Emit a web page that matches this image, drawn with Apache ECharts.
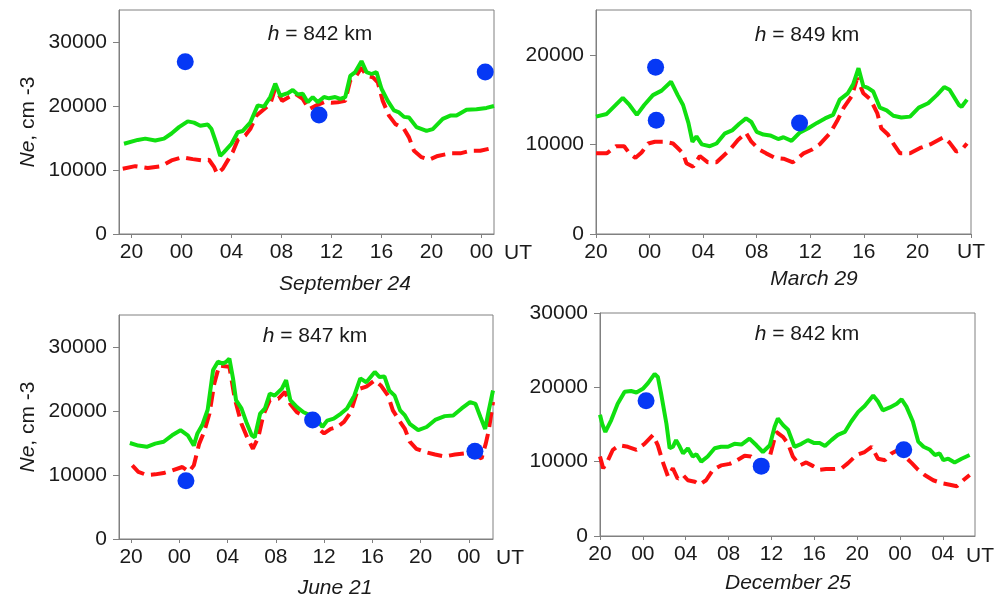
<!DOCTYPE html>
<html>
<head>
<meta charset="utf-8">
<script src="https://cdn.jsdelivr.net/npm/echarts@6/dist/echarts.min.js"></script>
<style>
  html, body { margin: 0; padding: 0; background: #fff; }
  #chart { width: 1008px; height: 598px; }
</style>
</head>
<body>
<div id="chart"></div>
<script>
// hours are UT relative to 00 of the labelled day, values in cm^-3
const sep24Green = [[-4.6,14100],[-3.5,14700],[-2.9,14900],[-2.1,14600],[-1.4,14900],[-0.8,15700],[-0.2,16700],[0.5,17600],[1.0,17400],[1.5,16900],[2.1,17100],[2.4,16400],[2.8,14100],[3.1,12200],[3.4,12800],[4.0,14100],[4.5,15900],[4.9,16100],[5.5,17400],[6.1,20100],[6.6,19900],[7.1,21400],[7.5,23500],[7.9,21600],[8.5,22000],[8.9,22500],[9.3,21800],[9.7,21900],[10.1,20600],[10.5,21400],[10.9,20600],[11.4,21400],[11.8,21200],[12.3,21400],[12.7,21100],[13.1,21400],[13.5,24700],[13.9,25300],[14.4,27000],[14.8,25300],[15.2,25000],[15.6,25300],[16.0,22700],[16.5,20800],[17.0,19300],[17.4,19000],[17.8,18300],[18.2,18200],[18.8,16700],[19.6,16100],[20.1,16400],[20.9,18000],[21.5,18500],[22.0,18500],[22.8,19400],[23.6,19500],[24.4,19700],[25.0,20000]];
const sep24Red = [[-4.7,10200],[-3.7,10600],[-2.7,10300],[-1.6,10600],[-0.8,11500],[0.05,12000],[0.9,11700],[1.7,11500],[2.2,11600],[2.6,10500],[2.85,9400],[3.3,10200],[3.7,11500],[4.1,12800],[4.5,14700],[5.1,15400],[5.5,16400],[6.0,18500],[6.6,19500],[7.1,20300],[7.5,22800],[8.05,20800],[8.6,21400],[9.1,21900],[9.7,21100],[10.2,19500],[10.8,20100],[11.4,20600],[12.0,20500],[12.5,20600],[13.1,20800],[13.5,24000],[13.9,24500],[14.4,26000],[14.8,24700],[15.3,24500],[15.7,23700],[16.1,20800],[16.6,18500],[17.1,17200],[17.8,16400],[18.2,15100],[18.6,13000],[19.2,12000],[19.8,11600],[20.5,12200],[21.5,12600],[22.3,12600],[23.1,13000],[23.9,13000],[25.0,13500]];
const sep24Obs = [[0.3,26900],[11.0,18600],[24.3,25300]];

const mar29Green = [[-4.0,13100],[-3.2,13400],[-2.6,14300],[-2.0,15200],[-1.5,14400],[-0.95,13300],[-0.4,14400],[0.25,15500],[0.9,16000],[1.6,17000],[2.1,15500],[2.5,14400],[2.9,12400],[3.2,10300],[3.5,10900],[3.9,10000],[4.5,9800],[5.0,10100],[5.6,11200],[6.2,11600],[6.7,12300],[7.2,12900],[7.6,12500],[8.0,11400],[8.5,11100],[9.0,11000],[9.6,10600],[10.0,10800],[10.6,10400],[11.2,11300],[11.85,11800],[12.5,12400],[13.1,12900],[13.7,13300],[14.2,15000],[14.8,15700],[15.2,16700],[15.6,18500],[15.96,16500],[16.3,16300],[16.7,15900],[17.2,14100],[17.7,13800],[18.2,13200],[18.8,13000],[19.45,13100],[20.1,14100],[20.8,14600],[21.45,15500],[22.0,16400],[22.4,16100],[23.1,14400],[23.3,14200],[23.7,15000]];
const mar29Red = [[-4.0,9000],[-3.2,9000],[-2.5,9800],[-1.9,9800],[-1.5,9000],[-1.05,8500],[-0.6,9100],[-0.1,10100],[0.4,10300],[1.1,10300],[1.75,10100],[2.1,9600],[2.5,9000],[2.75,7900],[3.25,7500],[3.75,8700],[4.35,8000],[5.0,8000],[5.5,8700],[6.0,9400],[6.6,10500],[7.2,11300],[7.6,10300],[8.2,9400],[8.7,9000],[9.35,8500],[10.0,8400],[10.7,8000],[11.5,9000],[12.1,9400],[12.7,10000],[13.5,11300],[14.0,12600],[14.5,14100],[15.1,15400],[15.5,17400],[15.96,15700],[16.5,15000],[17.0,13500],[17.3,11800],[17.8,11100],[18.2,10100],[18.7,9000],[19.45,9000],[20.2,9600],[20.95,10000],[21.95,10800],[22.4,10200],[22.9,9200],[23.3,9400],[23.7,10100]];
const mar29Obs = [[0.45,18600],[0.5,12700],[11.2,12400]];

const jun21Green = [[-4.1,15000],[-3.4,14600],[-2.7,14400],[-2.0,14900],[-1.3,15200],[-0.6,16200],[0.1,17000],[0.7,16200],[1.2,14600],[1.5,16500],[1.9,17800],[2.35,20200],[2.8,26400],[3.2,27700],[3.6,27400],[3.9,27700],[4.15,28200],[4.45,25100],[4.7,21700],[5.15,20400],[5.55,18300],[6.0,16200],[6.25,15900],[6.7,19600],[7.1,20400],[7.5,22700],[7.9,22400],[8.5,23500],[8.85,24800],[9.2,21700],[9.75,20600],[10.3,19800],[10.9,19300],[11.4,18800],[11.85,17500],[12.25,18500],[12.8,18800],[13.4,19600],[13.9,20400],[14.5,22400],[15.0,25100],[15.5,24500],[16.2,26100],[16.6,25300],[17.0,25400],[17.4,23200],[17.85,22400],[18.3,20100],[18.7,19300],[19.1,18000],[19.8,17000],[20.5,17500],[21.2,18600],[22.0,19200],[22.7,19300],[23.4,20400],[24.1,21400],[24.55,21100],[24.95,19100],[25.35,17200],[25.65,20100],[26.0,23200]];
const jun21Red = [[-3.9,11500],[-3.4,10500],[-2.7,10000],[-2.0,10100],[-1.3,10300],[-0.6,10700],[0.25,11250],[0.8,10500],[1.2,11500],[1.65,14900],[2.05,16700],[2.5,19600],[2.9,24300],[3.3,27100],[3.75,27000],[4.15,26900],[4.6,21900],[5.15,18000],[5.55,16200],[6.1,14100],[6.55,15900],[6.95,19300],[7.5,21700],[8.2,21900],[8.75,23000],[9.2,21100],[9.75,19800],[10.3,19300],[10.9,19100],[11.55,17200],[12.0,16500],[12.55,17200],[13.1,17500],[13.65,18300],[14.2,19800],[14.8,23400],[15.5,23800],[16.2,24800],[16.7,24000],[17.3,22400],[17.7,20100],[18.3,18300],[18.7,17200],[19.1,15200],[19.65,14100],[20.35,13600],[21.2,13200],[22.0,12900],[22.85,13200],[23.7,13400],[24.5,13100],[25.05,12600],[25.4,14900],[25.65,17000],[26.0,21400]];
const jun21Obs = [[0.55,9100],[11.05,18600],[24.5,13700]];

const dec25Green = [[-4.0,16300],[-3.8,15100],[-3.5,14000],[-2.95,15600],[-2.35,17800],[-1.7,19400],[-1.1,19500],[-0.6,19300],[0.0,19800],[0.5,20600],[1.1,21800],[1.4,21400],[1.7,19200],[2.2,15100],[2.5,11800],[2.8,12000],[3.1,12900],[3.45,12000],[3.75,11100],[4.2,11800],[4.65,10700],[5.0,11000],[5.45,10000],[6.05,10700],[6.7,11800],[7.3,12000],[7.95,12000],[8.55,12400],[9.2,12300],[9.95,13100],[10.6,12200],[11.2,11300],[11.85,12200],[12.3,14700],[12.6,15800],[13.1,14900],[13.55,14300],[14.15,12000],[14.8,12400],[15.4,12900],[16.0,12500],[16.5,12500],[17.0,12100],[17.6,12900],[18.2,13600],[18.85,14000],[19.45,15400],[20.1,16700],[20.7,17500],[21.5,18900],[21.95,18100],[22.4,16900],[23.05,17300],[23.7,17800],[24.15,18400],[24.6,17400],[25.2,15400],[25.7,12700],[26.2,12000],[26.8,11600],[27.25,10900],[27.7,11100],[28.05,10200],[28.5,10400],[29.1,9900],[29.75,10400],[30.5,10900]];
const dec25Red = [[-4.0,10700],[-3.7,9100],[-3.25,10200],[-2.8,11600],[-2.2,12200],[-1.4,12000],[-0.6,11600],[0.15,12400],[0.95,13600],[1.4,12200],[1.85,10000],[2.35,8000],[2.8,9100],[3.25,7700],[3.75,8200],[4.2,7500],[4.85,7300],[5.3,6900],[5.9,7500],[6.55,8900],[7.3,9500],[8.1,9700],[8.7,10100],[9.5,10800],[10.1,10700],[10.75,9900],[11.2,9400],[11.85,10700],[12.45,14000],[13.1,13300],[13.55,12400],[14.0,10700],[14.65,9500],[15.25,9900],[15.9,9400],[16.5,8900],[17.1,9000],[17.75,9000],[18.55,9100],[19.15,9800],[19.95,10900],[20.7,11300],[21.35,12000],[21.95,10400],[22.6,10200],[23.2,11100],[23.85,11600],[24.45,10700],[25.1,9800],[25.7,8900],[26.3,8200],[27.1,7500],[27.9,7100],[28.65,6900],[29.3,6700],[29.9,7500],[30.5,8200]];
const dec25Obs = [[0.3,18200],[11.05,9400],[24.35,11600]];

const hourTicks = [-4, 0, 4, 8, 12, 16, 20, 24];
const hourTicksLong = [-4, 0, 4, 8, 12, 16, 20, 24, 28];
const neTicks3 = [0, 10000, 20000, 30000];
const neTicks2 = [0, 10000, 20000];

const panelDates = ['September 24', 'March 29', 'June 21', 'December 25'];

const FONT = 'Liberation Sans, Arial, sans-serif';
const TXT = '#1a1a1a';
const AXC = '#808080';
const GREEN = '#10e010';
const RED = '#ff1010';
const BLUE = '#0638f5';

const grids = [
  { left: 119, top: 10, width: 375, height: 224 },
  { left: 596, top: 10, width: 375, height: 224 },
  { left: 119, top: 315, width: 374, height: 224 },
  { left: 600, top: 313, width: 375, height: 223 },
];

function hourLabel(v) {
  const h = ((v % 24) + 24) % 24;
  return (h < 10 ? '0' : '') + h;
}

function makeX(i, min, max, ticks, lastUT) {
  return {
    type: 'value', gridIndex: i, min: min, max: max,
    axisLine: { show: true, onZero: false, lineStyle: { color: AXC, width: 1 } },
    axisTick: { show: true, length: 4, customValues: ticks, lineStyle: { color: AXC } },
    axisLabel: {
      customValues: ticks, margin: 8, fontSize: 21, fontFamily: FONT, color: TXT,
      formatter: v => (lastUT && v === 24 ? 'UT' : hourLabel(v))
    },
    splitLine: { show: false }
  };
}

function makeY(i, max, ticks, withName) {
  const y = {
    type: 'value', gridIndex: i, min: 0, max: max,
    axisLine: { show: true, onZero: false, lineStyle: { color: AXC, width: 1 } },
    axisTick: { show: true, length: 6, customValues: ticks, lineStyle: { color: AXC } },
    axisLabel: {
      customValues: ticks, margin: 12, fontSize: 21, fontFamily: FONT, color: TXT,
      formatter: v => String(v)
    },
    splitLine: { show: false }
  };
  if (withName) {
    y.name = '{i|Ne}{n|, cm -3}';
    y.nameLocation = 'middle';
    y.nameGap = 80;
    y.nameTextStyle = {
      rich: {
        i: { fontSize: 21, fontStyle: 'italic', fontFamily: FONT, color: TXT },
        n: { fontSize: 21, fontFamily: FONT, color: TXT }
      }
    };
  }
  return y;
}

function lineSeries(i, data, color, dashed) {
  return {
    type: 'line', xAxisIndex: i, yAxisIndex: i, data: data,
    showSymbol: false, symbol: 'none', silent: true,
    lineStyle: { color: color, width: 4, type: dashed ? [15, 7] : 'solid', cap: 'butt' },
    z: dashed ? 2 : 3
  };
}

function obsSeries(i, data) {
  return {
    type: 'scatter', xAxisIndex: i, yAxisIndex: i, data: data,
    symbolSize: 17, itemStyle: { color: BLUE, opacity: 1 }, z: 4
  };
}

function label(text, x, y, italic) {
  return {
    text: text, left: x, top: y, textAlign: 'center', padding: 0,
    textStyle: {
      fontSize: 21, fontWeight: 'normal', fontFamily: FONT, color: TXT,
      fontStyle: italic ? 'italic' : 'normal',
      rich: { i: { fontSize: 21, fontStyle: 'italic', fontFamily: FONT, color: TXT } }
    }
  };
}

const chart = echarts.init(document.getElementById('chart'));
chart.setOption({
  animation: false,
  backgroundColor: '#fff',
  grid: grids.map(g => Object.assign({ show: true, borderColor: AXC, borderWidth: 1, outerBoundsMode: 'none' }, g)),
  xAxis: [
    makeX(0, -5, 25, hourTicks, false),
    makeX(1, -4, 24, hourTicks, true),
    makeX(2, -5, 26, hourTicks, false),
    makeX(3, -4, 31, hourTicksLong, false),
  ],
  yAxis: [
    makeY(0, 35000, neTicks3, true),
    makeY(1, 25000, neTicks2, false),
    makeY(2, 35000, neTicks3, true),
    makeY(3, 30000, neTicks3, false),
  ],
  title: [
    label('{i|h} = 842 km', 320, 24, false),
    label('{i|h} = 849 km', 807, 25, false),
    label('{i|h} = 847 km', 315, 326, false),
    label('{i|h} = 842 km', 807, 324, false),
    label(panelDates[0], 345, 274, true),
    label(panelDates[1], 814, 269, true),
    label(panelDates[2], 335, 578, true),
    label(panelDates[3], 788, 573, true),
    label('UT', 518, 243, false),
    label('UT', 510, 548, false),
    label('UT', 980, 546, false),
  ],
  series: [
    lineSeries(0, sep24Red, RED, true), lineSeries(0, sep24Green, GREEN, false), obsSeries(0, sep24Obs),
    lineSeries(1, mar29Red, RED, true), lineSeries(1, mar29Green, GREEN, false), obsSeries(1, mar29Obs),
    lineSeries(2, jun21Red, RED, true), lineSeries(2, jun21Green, GREEN, false), obsSeries(2, jun21Obs),
    lineSeries(3, dec25Red, RED, true), lineSeries(3, dec25Green, GREEN, false), obsSeries(3, dec25Obs),
  ]
});
</script>
</body>
</html>
